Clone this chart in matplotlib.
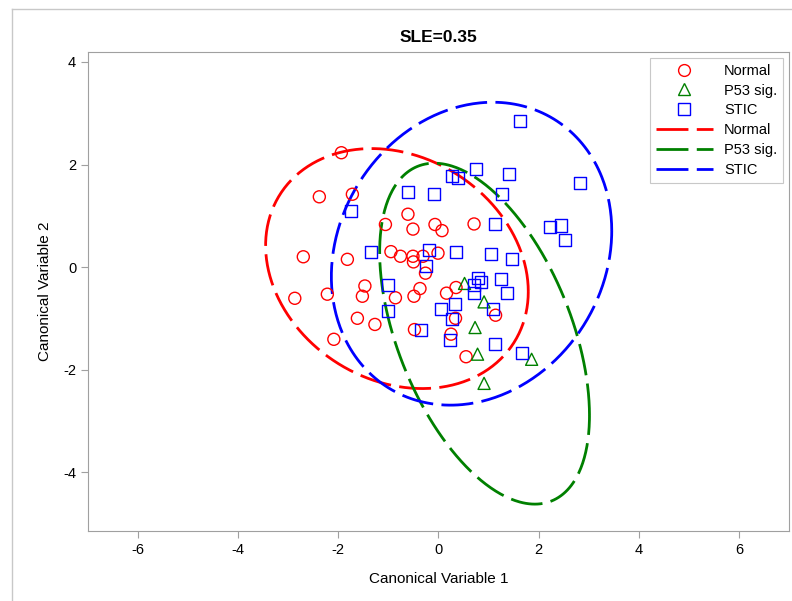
import numpy as np
import matplotlib
matplotlib.use("Agg")
import matplotlib.pyplot as plt
from matplotlib.lines import Line2D

plt.rcParams["font.family"] = ["Liberation Sans", "DejaVu Sans"]
plt.rcParams["axes.unicode_minus"] = False

# canonical scores
normal_x = [-1.94, -2.38, -1.72, -1.06, -0.61, -0.51, -0.07, 0.07, 0.71, -2.70,
            -1.82, -0.95, -0.76, -0.51, -0.50, -0.31, -0.01, -0.26, -1.47, -1.52,
            -0.86, -2.87, -2.22, -1.62, -1.27, -2.09, -0.49, -0.37, 0.16, 0.35,
            1.14, 0.34, -0.48, 0.25, 0.55]
normal_y = [2.23, 1.37, 1.42, 0.83, 1.03, 0.74, 0.83, 0.71, 0.84, 0.20,
            0.15, 0.30, 0.21, 0.21, 0.10, 0.21, 0.27, -0.12, -0.37, -0.57,
            -0.60, -0.61, -0.53, -1.00, -1.12, -1.41, -0.57, -0.42, -0.51, -0.40,
            -0.94, -1.00, -1.22, -1.31, -1.75]

p53_x = [0.52, 0.91, 0.73, 0.78, 1.86, 0.91]
p53_y = [-0.32, -0.68, -1.18, -1.70, -1.80, -2.27]

stic_x = [1.63, 0.75, 0.27, 0.38, 1.41, 2.83, -0.61, -0.09, 1.26, -1.75,
          1.12, 2.22, 2.44, 2.53, -1.35, -0.19, 0.35, 1.04, 1.47, -0.24,
          -1.01, 0.78, 0.85, 0.71, 0.71, 1.24, 1.37, 1.08, 0.33, 0.05,
          0.27, -1.01, -0.34, 0.23, 1.13, 1.66]
stic_y = [2.85, 1.91, 1.78, 1.73, 1.81, 1.63, 1.47, 1.42, 1.42, 1.10,
          0.84, 0.79, 0.81, 0.53, 0.30, 0.33, 0.30, 0.25, 0.16, 0.02,
          -0.35, -0.22, -0.29, -0.35, -0.51, -0.24, -0.51, -0.81, -0.73, -0.81,
          -1.02, -0.86, -1.22, -1.43, -1.51, -1.68]

# prediction ellipses: center and (sxx, sxy, syy)
ell_normal = ((-0.83, -0.03), (6.88, -1.18, 5.48))
ell_p53 = ((0.92, -1.30), (4.39, -3.34, 11.06))
ell_stic = ((0.66, 0.26), (7.84, 1.25, 8.73))

groups = ["Normal", "P53 sig.", "STIC"]
colors = {"Normal": "#ff0000", "P53 sig.": "#008000", "STIC": "#0000ff"}
dash = (11.5, 3)


def ellipse_xy(center, cov):
    sxx, sxy, syy = cov
    L = np.linalg.cholesky(np.array([[sxx, sxy], [sxy, syy]]))
    t = np.linspace(0, 2 * np.pi, 400)
    pts = L @ np.vstack([np.cos(t), np.sin(t)])
    return pts[0] + center[0], pts[1] + center[1]


fig = plt.figure(figsize=(7.92, 6.01), dpi=100)
ax = fig.add_axes([88 / 792, 1 - 531 / 601, 701 / 792, 479 / 601])

# outer frame of the output
fig.add_artist(Line2D([12 / 792, 12 / 792], [0, 1 - 9 / 601], transform=fig.transFigure,
                      color="#c8c8c8", lw=1))
fig.add_artist(Line2D([12 / 792, 1], [1 - 9 / 601, 1 - 9 / 601], transform=fig.transFigure,
                      color="#c8c8c8", lw=1))

ax.scatter(normal_x, normal_y, s=75, marker="o", facecolors="none",
           edgecolors=colors["Normal"], linewidths=1.0, zorder=3)
ax.scatter(p53_x, p53_y, s=75, marker="^", facecolors="none",
           edgecolors=colors["P53 sig."], linewidths=1.0, zorder=3)
ax.scatter(stic_x, stic_y, s=75, marker="s", facecolors="none",
           edgecolors=colors["STIC"], linewidths=1.0, zorder=3)

for name, ell in zip(groups, [ell_normal, ell_p53, ell_stic]):
    ex, ey = ellipse_xy(*ell)
    ax.plot(ex, ey, color=colors[name], lw=2, dashes=dash, zorder=2)

ax.set_xlim(-7, 7)
ax.set_ylim(-5.15, 4.195)
ax.set_xticks([-6, -4, -2, 0, 2, 4, 6])
ax.set_yticks([-4, -2, 0, 2, 4])
for sp in ax.spines.values():
    sp.set_color("#a0a0a0")
ax.tick_params(colors="#a0a0a0", labelcolor="black", labelsize=10.5, length=5)

ax.set_xlabel("Canonical Variable 1", fontsize=11, labelpad=11)
ax.set_ylabel("Canonical Variable 2", fontsize=11, labelpad=8)
ax.set_title("SLE=0.35", fontsize=12.5, fontweight="bold", pad=7)

handles = [
    Line2D([], [], ls="none", marker="o", mfc="none", mec=colors["Normal"], ms=8.5),
    Line2D([], [], ls="none", marker="^", mfc="none", mec=colors["P53 sig."], ms=8.5),
    Line2D([], [], ls="none", marker="s", mfc="none", mec=colors["STIC"], ms=8.5),
    Line2D([], [], color=colors["Normal"], lw=2, dashes=dash),
    Line2D([], [], color=colors["P53 sig."], lw=2, dashes=dash),
    Line2D([], [], color=colors["STIC"], lw=2, dashes=dash),
]
leg = ax.legend(handles, groups + groups, loc="upper right", fontsize=10.5,
                handlelength=3.9, labelspacing=0.4, borderaxespad=0.4,
                borderpad=0.4, handletextpad=0.8,
                fancybox=False, framealpha=1, edgecolor="#c8c8c8")
leg.get_frame().set_linewidth(0.8)

fig.savefig("out.png", dpi=100)
